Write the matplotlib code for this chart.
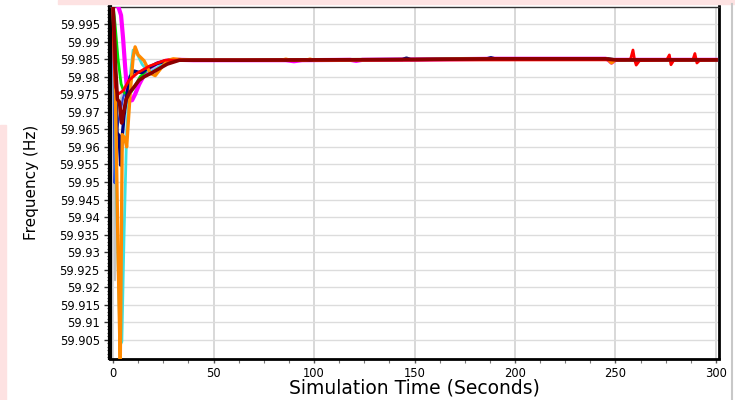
import numpy as np
import matplotlib
matplotlib.use("Agg")
import matplotlib.pyplot as plt
from matplotlib.ticker import MultipleLocator
from matplotlib.patches import Rectangle
from matplotlib.lines import Line2D

plt.rcParams['font.family'] = ['DejaVu Sans']

# Settled portion shared by every bus trace (s, Hz)
t_tail = [40, 63, 150, 190, 245, 250, 300]
f_tail = [59.9847, 59.9847, 59.9849, 59.9851, 59.9851, 59.9848, 59.9848]

# Initial transients
t_gray = [0, 1, 1.8, 3, 5, 8, 12, 18, 26]
f_gray = [60.0005, 59.922, 59.962, 59.972, 59.976, 59.979, 59.981, 59.983, 59.9847]

t_blue = [0, 0.8, 1.6, 3, 5, 8, 12, 18, 26]
f_blue = [60.0005, 59.9497, 59.9645, 59.968, 59.974, 59.979, 59.981, 59.9828, 59.9847]

t_magenta = [0, 2.5, 4, 5, 6, 7, 8, 9.5, 11, 13, 15.5, 18, 22, 27, 33,
             86, 90, 94, 118, 121, 124, 246, 248, 250]
f_magenta = [60.0005, 60.0002, 59.9975, 59.991, 59.983, 59.976, 59.9731, 59.9733,
             59.975, 59.9778, 59.9805, 59.9824, 59.9838, 59.9846, 59.9848,
             59.9847, 59.9844, 59.9847, 59.9848, 59.9845, 59.9848,
             59.9850, 59.9840, 59.9848]

t_green = [0, 1, 2.5, 4, 5.5, 7, 8.5, 10.5, 13.5, 17.5, 21, 26, 32]
f_green = [60.0005, 59.995, 59.985, 59.978, 59.9755, 59.9749, 59.9752, 59.977,
           59.980, 59.9822, 59.9836, 59.9846, 59.9848]

t_cyan = [0, 0.8, 1.6, 3.5, 4.4, 5.5, 6.8, 8.5, 10, 12, 14.5, 18, 22, 27, 33]
f_cyan = [60.0005, 59.985, 59.950, 59.9035, 59.9045, 59.935, 59.9647, 59.980,
          59.9876, 59.9865, 59.9835, 59.9812, 59.9825, 59.9846, 59.9849]

t_navy = [0, 1, 2, 3, 3.8, 4.6, 5.5, 6.5, 8.5, 10.5, 12.5, 14.5, 17.5, 22, 28, 34,
          144, 146, 148, 186, 188, 190]
f_navy = [60.0005, 59.985, 59.964, 59.9632, 59.9548, 59.9630, 59.969, 59.9735,
          59.9800, 59.9816, 59.9813, 59.9812, 59.9825, 59.9838, 59.9847, 59.9848,
          59.9849, 59.9853, 59.9849, 59.9851, 59.9854, 59.9851]

t_orange = [0, 1.2, 2.5, 3.6, 4.1, 4.6, 5.8, 6.8, 8.5, 10, 11, 12.5, 15.5, 18.5,
            21, 24, 27, 30, 35, 84, 86, 88, 96, 98, 100, 246, 248, 250]
f_orange = [60.0005, 59.975, 59.930, 59.898, 59.930, 59.9635, 59.9625, 59.9600,
            59.975, 59.9855, 59.9885, 59.9862, 59.9845, 59.981, 59.9803, 59.9825,
            59.9846, 59.9851, 59.9848, 59.9847, 59.9850, 59.9847, 59.9847,
            59.9850, 59.9847, 59.9850, 59.9839, 59.9848]

t_red = [0, 0.5, 1.2, 2.5, 5, 8, 12, 18, 26, 30, 255, 257.5, 258.7, 259.5, 260.3,
         262, 275.5, 276.8, 277.6, 279, 288.5, 289.5, 290.5, 292, 300]
f_red = [60.0005, 59.985, 59.977, 59.975, 59.976, 59.979, 59.981, 59.983, 59.9847,
         59.9847, 59.9848, 59.9850, 59.9876, 59.9848, 59.9833, 59.9846, 59.9848,
         59.9862, 59.9834, 59.9847, 59.9848, 59.9866, 59.9839, 59.9847, 59.9848]

t_darkred = [0, 0.8, 1.3, 2.2, 3.2, 4.3, 5, 6.5, 8.3, 10.4, 13, 15.5, 19, 22, 27, 33]
f_darkred = [60.0005, 59.990, 59.9825, 59.9735, 59.9728, 59.9668, 59.9690, 59.9735,
             59.9755, 59.9770, 59.9790, 59.9800, 59.9810, 59.9820, 59.9836, 59.9847]

x_ticks = [0, 50, 100, 150, 200, 250, 300]
y_ticks = [59.905, 59.91, 59.915, 59.92, 59.925, 59.93, 59.935, 59.94, 59.945,
           59.95, 59.955, 59.96, 59.965, 59.97, 59.975, 59.98, 59.985, 59.99, 59.995]
y_labels = ["59.905", "59.91", "59.915", "59.92", "59.925", "59.93", "59.935",
            "59.94", "59.945", "59.95", "59.955", "59.96", "59.965", "59.97",
            "59.975", "59.98", "59.985", "59.99", "59.995"]


def with_tail(t, f):
    """Join a transient with the settled tail, keeping time order."""
    t_all = np.concatenate([t, t_tail])
    f_all = np.concatenate([f, f_tail])
    order = np.argsort(t_all, kind="stable")
    return t_all[order], f_all[order]


fig = plt.figure(figsize=(7.35, 4.0), dpi=100)
ax = fig.add_axes([109.5 / 735, 1 - 358.5 / 400, 609 / 735, 352 / 400])

traces = [
    (t_gray, f_gray, "#c4c4c4", 1.5, True),
    (t_blue, f_blue, "#2a3fd6", 1.6, True),
    (t_magenta, f_magenta, "#ff00ff", 3.0, True),
    (t_green, f_green, "#00dd00", 2.0, True),
    (t_cyan, f_cyan, "#3fe0e0", 2.0, True),
    (t_navy, f_navy, "#00007a", 2.4, True),
    (t_orange, f_orange, "#ff8a00", 2.4, True),
    (t_red, f_red, "#ff0000", 2.0, False),
    (t_darkred, f_darkred, "#8b0000", 2.6, True),
]
for i, (t, f, c, lw, tail) in enumerate(traces):
    if tail:
        tt, ff = with_tail(t, f)
    else:
        tt, ff = np.asarray(t), np.asarray(f)
    ax.plot(tt, ff, color=c, lw=lw, zorder=3 + i, solid_joinstyle="round")

ax.set_xlim(-1.75, 301.25)
ax.set_ylim(59.8997, 60.0)
ax.set_xticks(x_ticks)
ax.set_xticklabels([str(v) for v in x_ticks], fontsize=8.3)
ax.set_yticks(y_ticks)
ax.set_yticklabels(y_labels, fontsize=8.3)
ax.xaxis.set_minor_locator(MultipleLocator(12.5))
ax.yaxis.set_minor_locator(MultipleLocator(0.001))
ax.tick_params(axis="y", which="major", length=4, width=1, pad=3, color="#333333")
ax.tick_params(axis="y", which="minor", length=2.5, width=0.8, color="#555555")
ax.tick_params(axis="x", which="major", length=3, width=1, pad=3, color="#555555")
ax.tick_params(axis="x", which="minor", length=3, width=0.8, color="#777777")

ax.grid(True, which="major", axis="y", color="#dcdcdc", lw=1.0, zorder=1)
ax.grid(True, which="major", axis="x", color="#d6d6d6", lw=1.3, zorder=1)
ax.set_axisbelow(True)

ax.spines["left"].set_linewidth(3.0)
ax.spines["bottom"].set_linewidth(2.0)
ax.spines["right"].set_linewidth(2.0)
ax.spines["top"].set_linewidth(1.0)
ax.spines["top"].set_color("#333333")

ax.set_xlabel("Simulation Time (Seconds)", fontsize=13.5, va="center")
ax.xaxis.set_label_coords(0.5, -0.084)
ax.set_ylabel("Frequency (Hz)", fontsize=11, va="center")
ax.yaxis.set_label_coords(-0.128, 0.5)

# Page trim around the plot
fig.patches.append(Rectangle((58 / 735, 1 - 3.5 / 400), 1 - 58 / 735, 3.5 / 400,
                             transform=fig.transFigure, color="#fde2e2", zorder=0))
fig.patches.append(Rectangle((0, 0), 6 / 735, 1 - 125 / 400,
                             transform=fig.transFigure, color="#fde2e2", zorder=0))
fig.lines.append(Line2D([731.5 / 735, 731.5 / 735], [0, 1 - 3.5 / 400],
                        transform=fig.transFigure, color="#c8c8c8", lw=1.5))

fig.savefig("out.png", dpi=100)
